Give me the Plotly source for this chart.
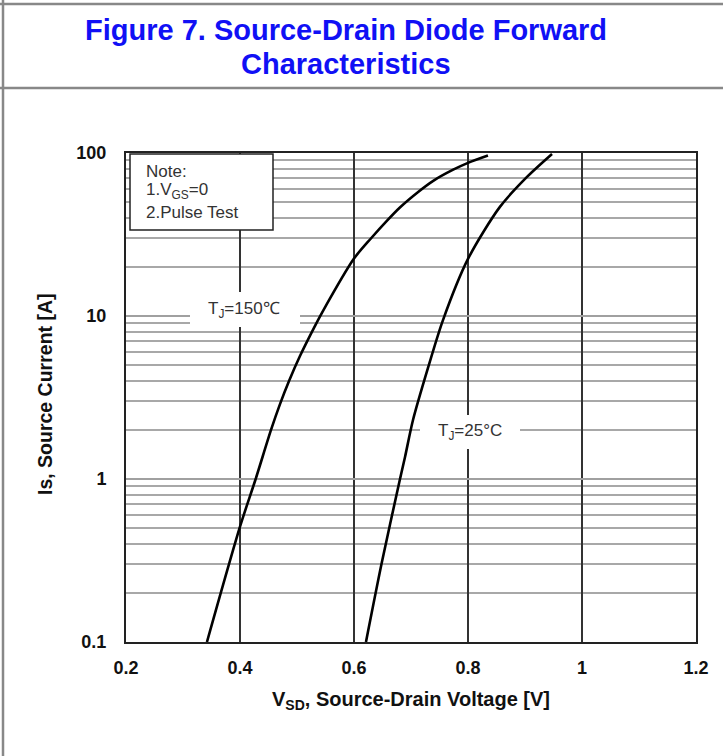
import plotly.graph_objects as go

# Data
v_150 = [0.342, 0.400, 0.4275, 0.4544, 0.470, 0.486, 0.505, 0.5316, 0.544, 0.600, 0.630, 0.658, 0.681, 0.712, 0.739, 0.774, 0.800, 0.835]
i_150 = [0.1, 0.51, 1.0, 2.0, 2.87, 3.99, 5.66, 8.7, 10.5, 22.5, 30, 38.5, 46.5, 57.5, 67.5, 79, 87, 96.5]

v_25 = [0.621, 0.6486, 0.6807, 0.6895, 0.7035, 0.7298, 0.7561, 0.800, 0.856, 0.9035, 0.9474]
i_25 = [0.1, 0.305, 1.0, 1.365, 2.3, 4.8, 9.44, 22.4, 46.7, 71.3, 98.6]

x_ticks = [0.2, 0.4, 0.6, 0.8, 1.0, 1.2]
x_ticktext = ["0.2", "0.4", "0.6", "0.8", "1", "1.2"]
decades = [0.1, 1, 10, 100]
decade_text = ["0.1", "1", "10", "100"]

title_lines = ["Figure 7. Source-Drain Diode Forward", "Characteristics"]
note_lines = ["Note:", "1.V<sub>GS</sub>=0", "2.Pulse Test"]
x_title = "V<sub>SD</sub>, Source-Drain Voltage [V]"
y_title = "Is, Source Current [A]"
label_150 = "T<sub>J</sub>=150℃"
label_25 = "T<sub>J</sub>=25°C"

W, H = 723, 756
L, R, T, B = 126, 696, 153, 642
PW, PH = R - L, B - T

def px(x):
    return (x - L) / PW

def py(y):
    return (B - y) / PH

minor_vals = [d * m for d in decades[:-1] for m in range(2, 10)]

FONT = "Liberation Sans, Arial"

fig = go.Figure()
for xs, ys in ((v_150, i_150), (v_25, i_25)):
    fig.add_trace(go.Scatter(x=xs, y=ys, mode="lines",
                             line=dict(color="black", width=2.6, shape="spline", smoothing=0.8),
                             showlegend=False, hoverinfo="skip"))

fig.update_layout(
    width=W, height=H,
    margin=dict(l=L, r=W - R, t=T, b=H - B),
    paper_bgcolor="white", plot_bgcolor="white",
    font=dict(family=FONT, color="black"),
    xaxis=dict(range=[0.2, 1.2], tickvals=x_ticks, ticktext=x_ticktext,
               showgrid=True, gridcolor="#333", gridwidth=1.5,
               showline=True, linecolor="#222", linewidth=2, mirror=True,
               ticks="", zeroline=False, ticklabelstandoff=8,
               tickfont=dict(size=18, family=FONT, color="#111", weight="bold")),
    yaxis=dict(type="log", range=[-1, 2], tickvals=decades, ticktext=decade_text,
               showgrid=True, gridcolor="#a0a0a0", gridwidth=1.8,
               minor=dict(tickmode="array", tickvals=minor_vals, showgrid=True,
                          gridcolor="#a8a8a8", gridwidth=1.5, ticks=""),
               showline=True, linecolor="#222", linewidth=2, mirror=True,
               ticks="", zeroline=False, ticklabelstandoff=14,
               tickfont=dict(size=18, family=FONT, color="#111", weight="bold")),
)

# Axis titles
fig.add_annotation(xref="paper", yref="paper", x=px(411), y=py(700), text=f"<b>{x_title}</b>",
                   showarrow=False, xanchor="center", yanchor="middle",
                   font=dict(size=20, family=FONT, color="#111"))
fig.add_annotation(xref="paper", yref="paper", x=px(45), y=py(394), text=f"<b>{y_title}</b>",
                   showarrow=False, xanchor="center", yanchor="middle", textangle=-90,
                   font=dict(size=19.5, family=FONT, color="#111"))

# Page frame lines
frame = dict(type="line", xref="paper", yref="paper", line=dict(color="#888", width=2.5), layer="above")
fig.add_shape(**frame, x0=px(0), x1=px(W), y0=py(4), y1=py(4))
fig.add_shape(**frame, x0=px(0), x1=px(W), y0=py(88), y1=py(88))
fig.add_shape(**frame, x0=px(3), x1=px(3), y0=py(0), y1=py(H))

# Title
for i, line in enumerate(title_lines):
    fig.add_annotation(xref="paper", yref="paper", x=px(346), y=py(30 + 34 * i),
                       text=f"<b>{line}</b>", showarrow=False,
                       font=dict(family=FONT, size=29, color="#1010F5"),
                       xanchor="center", yanchor="middle")

# Note box
fig.add_shape(type="rect", xref="paper", yref="paper", x0=px(130), x1=px(273), y0=py(154), y1=py(230),
              line=dict(color="#222", width=1.5), fillcolor="white", layer="above")
for i, line in enumerate(note_lines):
    fig.add_annotation(xref="paper", yref="paper", x=px(144), y=py(171 + 20.5 * i),
                       text=line, showarrow=False, xanchor="left", yanchor="middle",
                       font=dict(family=FONT, size=17, color="#333"))

# Curve labels with white gaps in the grid
fig.add_shape(type="rect", xref="paper", yref="paper", x0=px(190), x1=px(300), y0=py(292), y1=py(327),
              line=dict(width=0), fillcolor="white", layer="above")
fig.add_shape(type="rect", xref="paper", yref="paper", x0=px(420), x1=px(520), y0=py(415), y1=py(449),
              line=dict(width=0), fillcolor="white", layer="above")
fig.add_annotation(xref="paper", yref="paper", x=px(244), y=py(310), xanchor="center", yanchor="middle",
                   text=label_150, showarrow=False,
                   font=dict(family=FONT, size=17, color="#333"))
fig.add_annotation(xref="paper", yref="paper", x=px(470), y=py(432), xanchor="center", yanchor="middle",
                   text=label_25, showarrow=False,
                   font=dict(family=FONT, size=17, color="#333"))

fig.write_html("out.html")
